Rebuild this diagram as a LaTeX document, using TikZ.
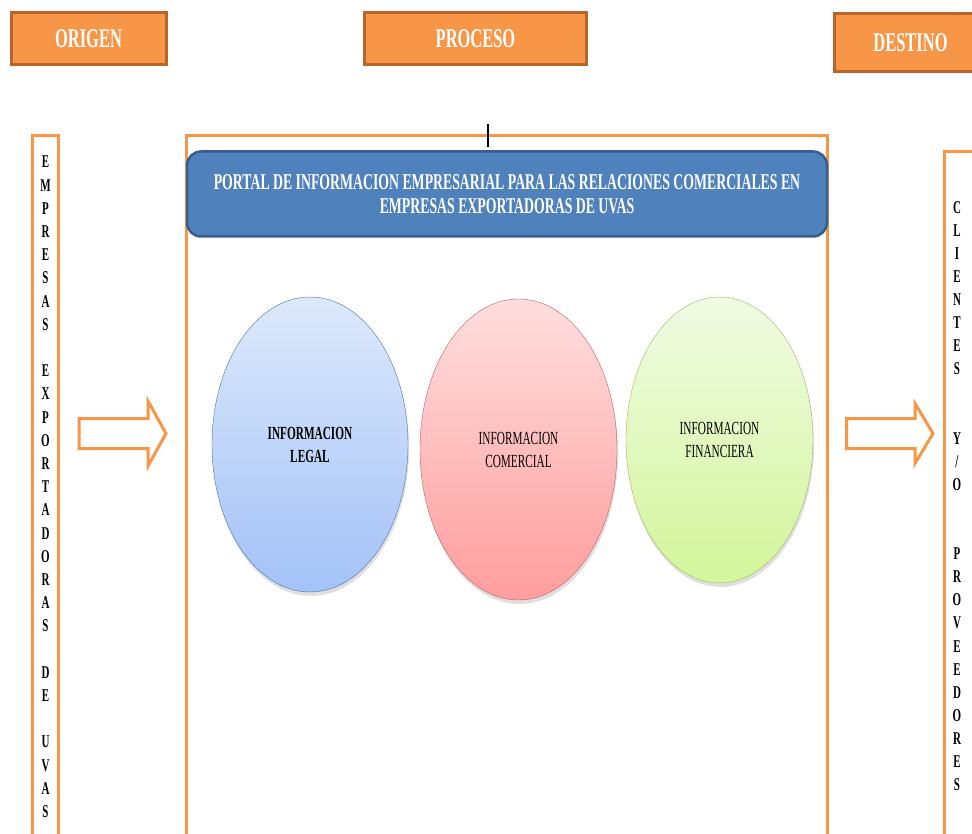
\documentclass[tikz,border=0pt]{standalone}
\usepackage{fontspec}
\setmainfont{Liberation Serif}
\newfontfamily\sqz[FakeStretch=0.61]{Liberation Serif}
\usepackage{tikz}
\usetikzlibrary{shapes.geometric, shadows}
\definecolor{naranja}{HTML}{F79646}
\definecolor{naranjaosc}{HTML}{B8652B}
\definecolor{azul}{HTML}{4F81BD}
\definecolor{azulosc}{HTML}{385D8A}
\tikzset{>=latex}

\begin{document}
\begin{tikzpicture}[x=1pt, y=-1pt]
\useasboundingbox (0,0) rectangle (972,834);
\clip (0,0) rectangle (972,834);
\node[fill=naranja, draw=naranjaosc, line width=3pt, minimum width=155pt, minimum height=52pt, text=white, font=\sqz\bfseries\fontsize{27}{30}\selectfont] (Or) at (88.5,39) {ORIGEN};
\node[fill=naranja, draw=naranjaosc, line width=3pt, minimum width=222pt, minimum height=52pt, text=white, font=\sqz\bfseries\fontsize{27}{30}\selectfont] (Pr) at (475.5,39) {PROCESO};
\node[fill=naranja, draw=naranjaosc, line width=3pt, minimum width=152pt, minimum height=58pt, text=white, font=\sqz\bfseries\fontsize{27}{30}\selectfont] (De) at (910.5,43) {DESTINO};
\draw[naranja, line width=3pt] (32.5,135.5) rectangle (58.5,850);
\draw[naranja, line width=3pt] (186.5,135.5) rectangle (827.5,850);
\draw[naranja, line width=3pt] (944.5,151.5) rectangle (990,850);
\draw[line width=1.5pt] (488,124) -- (488,147);
\node[fill=azul, draw=azulosc, line width=2.5pt, rounded corners=14pt, minimum width=640pt, minimum height=85pt, text=white, align=center, font=\sqz\bfseries\fontsize{22.6}{24}\selectfont] (T) at (507,194) {PORTAL DE INFORMACION EMPRESARIAL PARA LAS RELACIONES COMERCIALES EN\\EMPRESAS EXPORTADORAS DE UVAS};
\node[anchor=north, inner sep=0pt, align=center, font=\sqz\bfseries\fontsize{18}{23.2}\selectfont] (EE) at (45.5,156) {E\\M\\P\\R\\E\\S\\A\\S\\[23.2pt]E\\X\\P\\O\\R\\T\\A\\D\\O\\R\\A\\S\\[23.2pt]D\\E\\[23.2pt]U\\V\\A\\S};
\node[anchor=north, inner sep=0pt, align=center, font=\sqz\bfseries\fontsize{18}{23.1}\selectfont] (CP) at (957,201) {C\\L\\I\\E\\N\\T\\E\\S\\[46.2pt]Y\\/\\O\\[46.2pt]P\\R\\O\\V\\E\\E\\D\\O\\R\\E\\S};
\draw[naranja, line width=3pt, fill=white] (79,418.5) -- (148,418.5) -- (148,401) -- (166,433.5) -- (148,466) -- (148,448.5) -- (79,448.5) -- cycle;
\draw[naranja, line width=3pt, fill=white] (846.5,418.5) -- (915,418.5) -- (915,403.5) -- (933,433.5) -- (915,463.5) -- (915,448.5) -- (846.5,448.5) -- cycle;
\node[ellipse, draw=azul!90!black, top color={rgb,255:red,221;green,233;blue,251}, bottom color={rgb,255:red,163;green,194;blue,247}, minimum width=196pt, minimum height=295pt, drop shadow={opacity=0.25, shadow xshift=1pt, shadow yshift=-4pt}, align=center, font=\sqz\bfseries\fontsize{18.5}{23}\selectfont] (L) at (310,444.5) {INFORMACION\\LEGAL};
\node[ellipse, draw={rgb,255:red,200;green,90;blue,90}, top color={rgb,255:red,255;green,222;blue,222}, bottom color={rgb,255:red,255;green,157;blue,157}, minimum width=197pt, minimum height=301pt, drop shadow={opacity=0.25, shadow xshift=1pt, shadow yshift=-4pt}, align=center, font=\sqz\fontsize{18.5}{23}\selectfont] (C) at (518.5,449.5) {INFORMACION\\COMERCIAL};
\node[ellipse, draw={rgb,255:red,150;green,188;blue,90}, top color={rgb,255:red,241;green,251;blue,228}, bottom color={rgb,255:red,211;green,245;blue,154}, minimum width=187pt, minimum height=286pt, drop shadow={opacity=0.25, shadow xshift=1pt, shadow yshift=-4pt}, align=center, font=\sqz\fontsize{18.5}{23}\selectfont] (F) at (719.5,440) {INFORMACION\\FINANCIERA};
\end{tikzpicture}
\end{document}
